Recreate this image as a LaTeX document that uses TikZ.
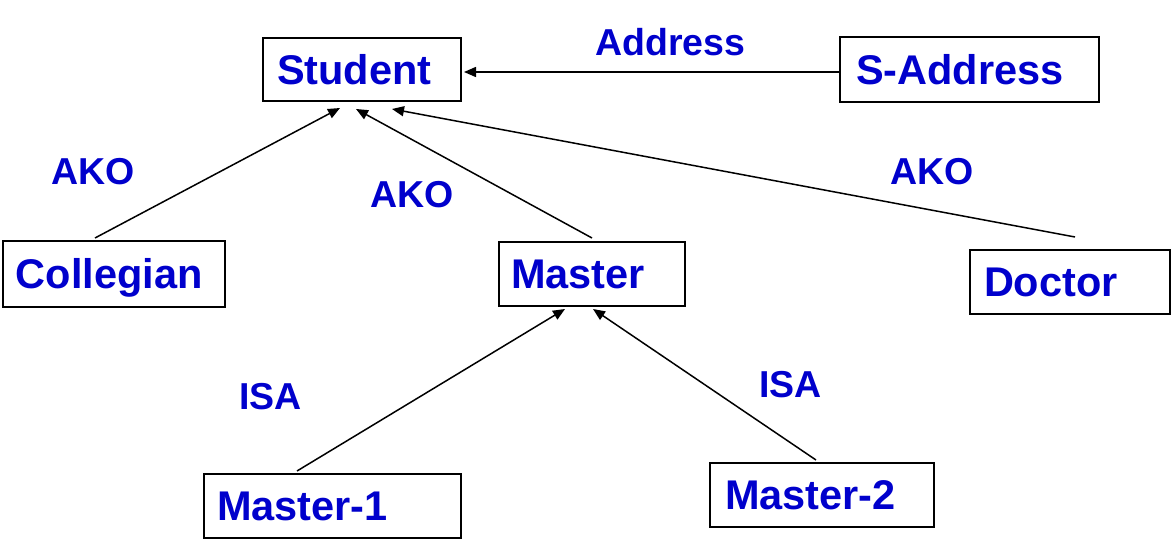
\documentclass[tikz,border=0pt]{standalone}
\usepackage{fontspec}
\setmainfont{Liberation Sans}
\usetikzlibrary{arrows.meta,calc}
\definecolor{txtblue}{RGB}{0,0,204}
\begin{document}
\begin{tikzpicture}[x=1pt,y=-1pt,
  box/.style={draw=black, line width=2pt, anchor=north west, align=left,
    text=txtblue, font=\fontsize{41.5}{48}\selectfont\bfseries,
    text height=29.7pt, text depth=0pt, inner ysep=0pt},
  lbl/.style={anchor=base west, text=txtblue,
    font=\fontsize{37.5}{44}\selectfont\bfseries, inner sep=0pt},
  link/.style={line width=1.5pt, -{Triangle[length=12pt,width=10pt]}}]
\useasboundingbox (0,0) rectangle (1171,540);

% boxes
\node[box, inner xsep=14pt, text width=170pt, minimum height=63pt] (student) at (262,37) {Student};
\node[box, inner xsep=16pt, text width=227pt, minimum height=65pt] (sadd) at (839,36) {S-Address};
\node[box, inner xsep=13pt, text width=196pt, minimum height=66pt] (coll) at (2,240) {Collegian};
\node[box, inner xsep=12pt, text width=162pt, minimum height=64pt] (master) at (498,241) {Master};
\node[box, inner xsep=14pt, text width=172pt, minimum height=64pt] (doctor) at (969,249) {Doctor};
\node[box, inner xsep=13pt, text width=231pt, minimum height=64pt] (m1) at (203,473) {Master-1};
\node[box, inner xsep=15pt, text width=194pt, minimum height=64pt] (m2) at (709,462) {Master-2};

% labels
\node[lbl] (laddr) at (595,56) {Address};
\node[lbl] (lako1) at (51,185) {AKO};
\node[lbl] (lako2) at (370,208) {AKO};
\node[lbl] (lako3) at (890,185) {AKO};
\node[lbl] (lisa1) at (239,409) {ISA};
\node[lbl] (lisa2) at (759,397) {ISA};

% connectors
\draw[link] ($(sadd.west)+(0,2.5)$) -- ($(student.east)+(2,2.5)$);
\draw[link] ($(coll.north west)+(93,-2)$) -- ($(student.south west)+(78,6)$);
\draw[link] ($(master.north west)+(94,-3)$) -- ($(student.south west)+(94,7)$);
\draw[link] ($(doctor.north west)+(106,-12)$) -- ($(student.south west)+(130,7)$);
\draw[link] ($(m1.north west)+(94,-2)$) -- ($(master.south west)+(67,2)$);
\draw[link] ($(m2.north west)+(107,-2)$) -- ($(master.south west)+(95,2)$);
\end{tikzpicture}
\end{document}
